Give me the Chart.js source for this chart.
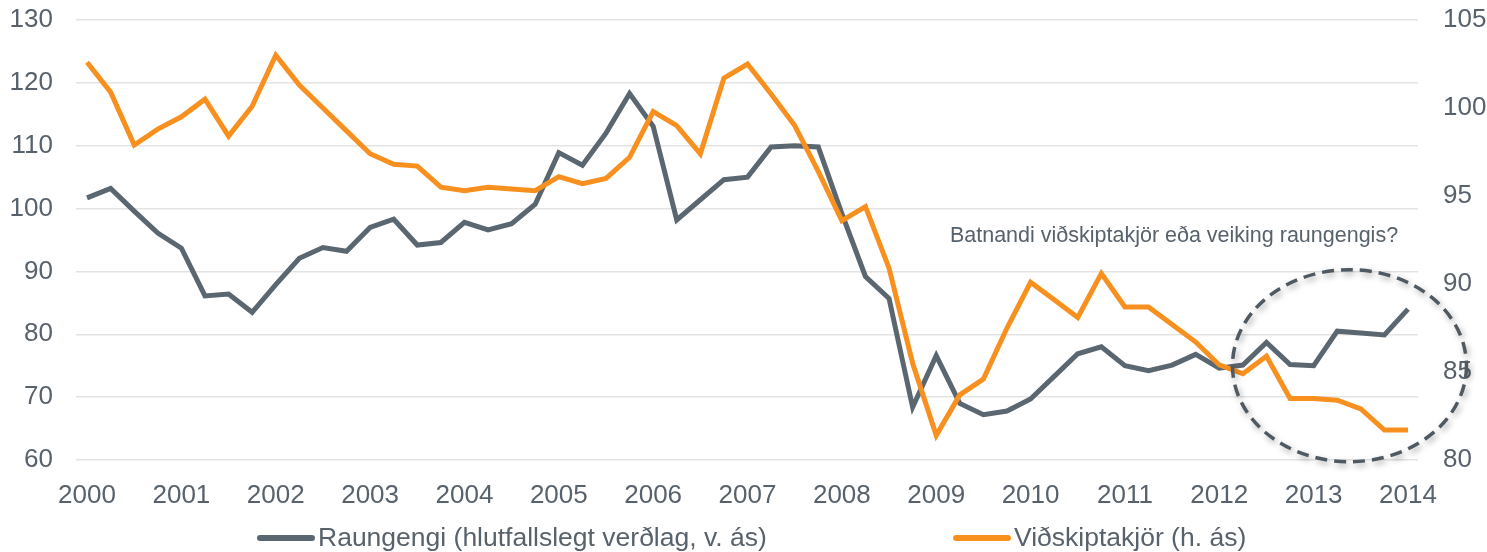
<!DOCTYPE html>
<html>
<head>
<meta charset="utf-8">
<script src="https://cdn.jsdelivr.net/npm/chart.js@4"></script>
<style>
  html, body { margin: 0; padding: 0; background: #fff; }
  #wrap { width: 1487px; height: 552px; position: relative; }
</style>
</head>
<body>
<div id="wrap"><canvas id="chart"></canvas></div>
<script>
// quarterly points, 2000 Q1 .. 2014 Q1
let years = [2000, 2001, 2002, 2003, 2004, 2005, 2006, 2007, 2008, 2009, 2010, 2011, 2012, 2013, 2014];

let raungengi = [
    101.7, 103.2, 99.6, 96.1, 93.7, 86.1, 86.4, 83.5,
    87.9, 92.1, 93.8, 93.2, 97.0, 98.3, 94.2, 94.6,
    97.8, 96.6, 97.6, 100.7, 108.9, 106.9, 112.0, 118.3,
    113.1, 98.2, 101.4, 104.6, 105.0, 109.8, 110.0, 109.8,
    99.2, 89.2, 85.7, 68.4, 76.6, 69.0, 67.2, 67.8,
    69.7, 73.3, 76.9, 78.0, 75.0, 74.2, 75.1, 76.8,
    74.6, 75.1, 78.7, 75.2, 75.0, 80.5, 80.2, 79.9,
    84.0
];

let vidskiptakjor = [
    102.6, 100.9, 97.9, 98.8, 99.5, 100.5, 98.4, 100.1,
    103.0, 101.3, 100.0, 98.7, 97.4, 96.8, 96.7, 95.5,
    95.3, 95.5, 95.4, 95.3, 96.1, 95.7, 96.0, 97.2,
    99.8, 99.0, 97.4, 101.7, 102.5, 100.8, 99.0, 96.4,
    93.6, 94.4, 90.9, 85.5, 81.4, 83.7, 84.6, 87.5,
    90.1, 89.1, 88.1, 90.6, 88.7, 88.7, 87.7, 86.7,
    85.4, 84.9, 85.9, 83.5, 83.5, 83.4, 82.9, 81.7,
    81.7
];

let leftTicks = [60, 70, 80, 90, 100, 110, 120, 130];
let rightTicks = [80, 85, 90, 95, 100, 105];

let seriesNames = ['Raungengi (hlutfallslegt verðlag, v. ás)', 'Viðskiptakjör (h. ás)'];
let note = 'Batnandi viðskiptakjör eða veiking raungengis?';

const GRAY = '#5a6670';
const ORANGE = '#f7901e';
const TEXT = '#58626c';
const FONT = "'Liberation Sans', Arial, sans-serif";

// x positions as decimal years (one per quarter)
let labels = [];
years.forEach(y => {
    for (let q = 0; q < 4; q++) {
        if (y === 2014 && q > 0) break;
        labels.push(y + q / 4);
    }
});

// dashed ellipse + question text
const notePlugin = {
    id: 'note',
    afterDatasetsDraw(chart) {
        const ctx = chart.ctx;
        const x = chart.scales.x, y = chart.scales.y;
        ctx.save();
        ctx.font = '21.5px ' + FONT;
        ctx.fillStyle = TEXT;
        ctx.textAlign = 'center';
        ctx.textBaseline = 'middle';
        ctx.fillText(note, x.getPixelForValue(2011.52), y.getPixelForValue(95.6));

        const cx = x.getPixelForValue(2013.38);
        const cy = y.getPixelForValue(75);
        ctx.shadowColor = 'rgba(0,0,0,0.35)';
        ctx.shadowBlur = 6;
        ctx.shadowOffsetX = 2;
        ctx.shadowOffsetY = 3;
        ctx.strokeStyle = '#4f5962';
        ctx.lineWidth = 3.5;
        ctx.setLineDash([12, 7]);
        ctx.beginPath();
        ctx.ellipse(cx, cy, 117, 96, 0, 0, Math.PI * 2);
        ctx.stroke();
        ctx.restore();
    }
};

// legend drawn under the axis
const legendPlugin = {
    id: 'bottomLegend',
    afterDraw(chart) {
        const ctx = chart.ctx;
        const items = [
            { text: seriesNames[0], color: GRAY, x: 260 },
            { text: seriesNames[1], color: ORANGE, x: 956 }
        ];
        ctx.save();
        ctx.font = '26.5px ' + FONT;
        ctx.textBaseline = 'middle';
        ctx.textAlign = 'left';
        items.forEach(it => {
            ctx.strokeStyle = it.color;
            ctx.lineWidth = 6;
            ctx.lineCap = 'round';
            ctx.beginPath();
            ctx.moveTo(it.x, 538);
            ctx.lineTo(it.x + 52, 538);
            ctx.stroke();
            ctx.fillStyle = TEXT;
            ctx.fillText(it.text, it.x + 58, 539);
        });
        ctx.restore();
    }
};

const noPad = s => { s.paddingTop = 0; s.paddingBottom = 0; };

var ctx = document.getElementById('chart').getContext('2d');
var chart = new Chart(ctx, {
    type: 'line',
    data: {
        labels: labels,
        datasets: [
            {
                label: seriesNames[0],
                data: raungengi,
                yAxisID: 'y',
                borderColor: GRAY,
                backgroundColor: GRAY,
                borderWidth: 5,
                pointRadius: 0,
                tension: 0,
                order: 2
            },
            {
                label: seriesNames[1],
                data: vidskiptakjor,
                yAxisID: 'y1',
                borderColor: ORANGE,
                backgroundColor: ORANGE,
                borderWidth: 5,
                pointRadius: 0,
                tension: 0,
                order: 1
            }
        ]
    },
    options: {
        responsive: true,
        maintainAspectRatio: false,
        animation: false,
        layout: { padding: { top: 20, bottom: 44, left: 0, right: 0 } },
        plugins: {
            legend: { display: false },
            tooltip: { enabled: false }
        },
        scales: {
            x: {
                type: 'linear',
                min: 1999.883,
                max: 2014.106,
                grid: { display: false },
                border: { display: false },
                afterBuildTicks: s => { s.ticks = years.map(v => ({ value: v })); },
                afterFit: s => { s.height = 48; s.paddingLeft = 0; s.paddingRight = 0; },
                ticks: {
                    color: TEXT,
                    font: { size: 26, family: FONT },
                    padding: 12,
                    maxRotation: 0,
                    autoSkip: false,
                    callback: v => String(v)
                }
            },
            y: {
                position: 'left',
                min: 60,
                max: 130,
                afterBuildTicks: s => { s.ticks = leftTicks.map(v => ({ value: v })); },
                afterFit: s => { s.width = 76; noPad(s); },
                grid: { color: '#e3e3e3', lineWidth: 1.5, drawTicks: false },
                border: { display: false },
                ticks: {
                    color: TEXT,
                    font: { size: 26, family: FONT },
                    padding: 23
                }
            },
            y1: {
                position: 'right',
                min: 80,
                max: 105,
                afterBuildTicks: s => { s.ticks = rightTicks.map(v => ({ value: v })); },
                afterFit: s => { s.width = 69; noPad(s); },
                grid: { display: false, drawTicks: false },
                border: { display: false },
                ticks: {
                    color: TEXT,
                    font: { size: 26, family: FONT },
                    padding: 25
                }
            }
        }
    },
    plugins: [notePlugin, legendPlugin]
});
</script>
</body>
</html>
